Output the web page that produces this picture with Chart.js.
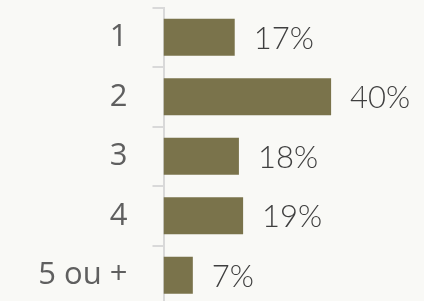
<!DOCTYPE html>
<html lang="fr">
<head>
<meta charset="UTF-8">
<title>Répartition</title>
<script src="https://cdn.jsdelivr.net/npm/chart.js"></script>
<style>
  html, body { margin: 0; padding: 0; background: #f9f9f6; overflow: hidden; }
  #wrap { width: 424px; height: 305px; position: relative; }
</style>
</head>
<body>
<div id="wrap"><canvas id="myChart"></canvas></div>
<script>
// data
const categories = ['1', '2', '3', '4', '5 ou +'];
const shares = [17, 40, 18, 19, 7];
const valueLabels = ['17%', '40%', '18%', '19%', '7%'];

// draw the percentage right after each bar
const endLabels = {
  id: 'endLabels',
  afterDatasetsDraw(chart) {
    const ctx = chart.ctx;
    const meta = chart.getDatasetMeta(0);
    ctx.save();
    ctx.font = '300 31px Lato, "Open Sans", sans-serif';
    ctx.fillStyle = '#3f3f3f';
    ctx.textAlign = 'left';
    ctx.textBaseline = 'middle';
    meta.data.forEach((bar, i) => {
      ctx.fillText(valueLabels[i], bar.x + 19, bar.y + 1.5);
    });
    ctx.restore();
  }
};

const ctx = document.getElementById('myChart').getContext('2d');
new Chart(ctx, {
  type: 'bar',
  data: {
    labels: categories,
    datasets: [{
      data: shares,
      backgroundColor: '#7a734b',
      borderWidth: 0,
      categoryPercentage: 1,
      barPercentage: 0.62
    }]
  },
  options: {
    indexAxis: 'y',
    responsive: true,
    maintainAspectRatio: false,
    animation: false,
    layout: { padding: { top: 7.5, right: 51, bottom: 0, left: 0 } },
    plugins: { legend: { display: false }, tooltip: { enabled: false } },
    scales: {
      x: { display: false, min: 0, max: 50 },
      y: {
        afterFit(scale) {
          scale.width = 163.5;
          scale.paddingTop = 0;
          scale.paddingBottom = 0;
        },
        border: { color: '#d9d9d9', width: 2 },
        grid: {
          offset: true,
          drawOnChartArea: false,
          color: '#d9d9d9',
          lineWidth: 2,
          tickLength: 11
        },
        ticks: {
          color: '#5f5f5f',
          padding: 25,
          font: { family: '"Open Sans", sans-serif', size: 31 }
        }
      }
    }
  },
  plugins: [endLabels]
});
</script>
</body>
</html>
